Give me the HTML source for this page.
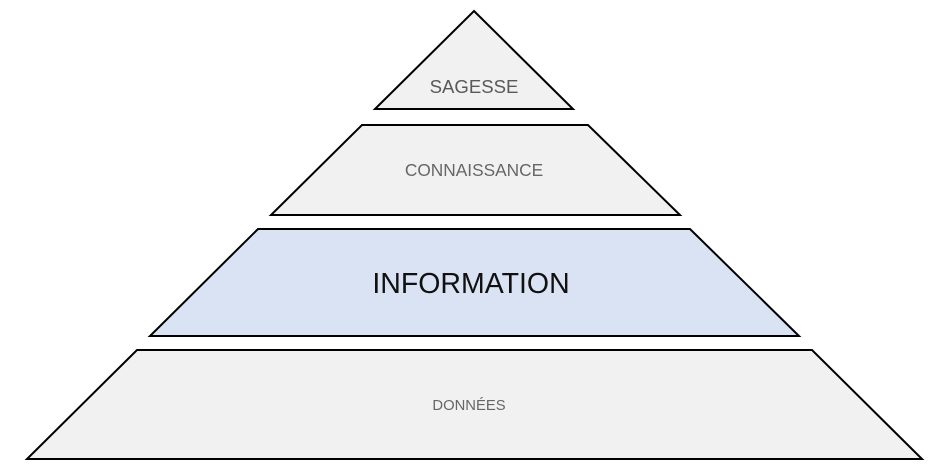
<!DOCTYPE html>
<html><head><meta charset="utf-8"><style>
html,body{margin:0;padding:0;background:#fff;width:948px;height:469px;overflow:hidden}
</style></head><body>
<svg width="948" height="469" viewBox="0 0 948 469" xmlns="http://www.w3.org/2000/svg" font-family="Liberation Sans, Arial, sans-serif">
<polygon points="474,11 573,109 375,109" fill="#f1f1f1" stroke="#000" stroke-width="2"/>
<polygon points="362,125 588,125 680,215 271,215" fill="#f1f1f1" stroke="#000" stroke-width="2"/>
<polygon points="258,229 690,229 799,336 150,336" fill="#dae3f3" stroke="#000" stroke-width="2"/>
<polygon points="137,350 812,350 922,459 27,459" fill="#f1f1f1" stroke="#000" stroke-width="2"/>
<text x="474" y="93" text-anchor="middle" font-size="18.6" fill="#595959">SAGESSE</text>
<text x="474" y="176" text-anchor="middle" font-size="17.3" fill="#666">CONNAISSANCE</text>
<text x="471" y="293" text-anchor="middle" font-size="28.5" fill="#111">INFORMATION</text>
<text x="469" y="410" text-anchor="middle" font-size="14.8" fill="#666">DONNÉES</text>
</svg>
</body></html>
